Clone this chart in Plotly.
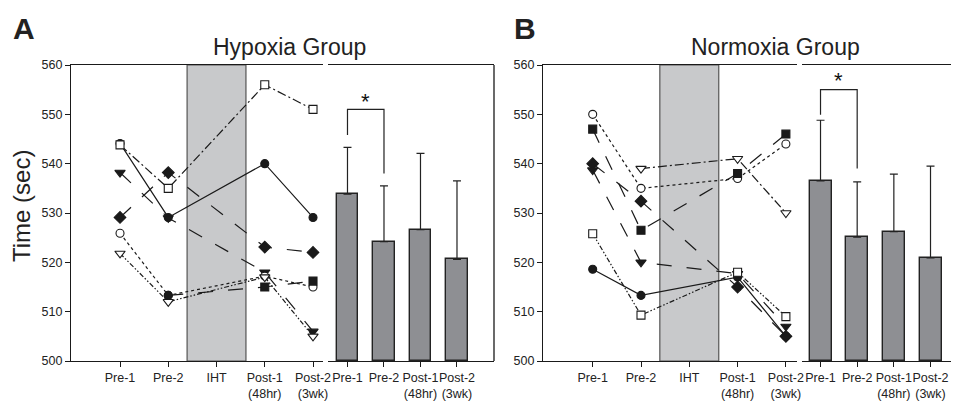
import plotly.graph_objects as go

# ---------------- data ----------------
line_cats = ["Pre-1", "Pre-2", "IHT", "Post-1<br>(48hr)", "Post-2<br>(3wk)"]
bar_cats = ["Pre-1", "Pre-2", "Post-1<br>(48hr)", "Post-2<br>(3wk)"]
time_pos = [0, 1, 3, 4]          # Pre-1, Pre-2, Post-1, Post-2 (IHT at 2)

# Hypoxia group individual subjects
hyp_circle_filled = [544.1, 529.1, 540.0, 529.1]
hyp_square_open = [543.8, 535.0, 556.0, 551.0]
hyp_diamond = [529.1, 538.2, 523.1, 522.0]
hyp_tri_filled = [538.2, 529.0, 518.0, 506.0]
hyp_circle_open = [525.9, 513.3, 517.2, 515.0]
hyp_tri_open = [521.8, 512.0, 517.0, 505.0]
hyp_square_filled = [None, 513.3, 515.0, 516.2]

# Normoxia group individual subjects
nor_circle_filled = [518.6, 513.3, 517.0, 505.0]
nor_circle_open = [550.0, 535.0, 537.0, 544.0]
nor_square_filled = [547.0, 526.5, 538.0, 546.0]
nor_diamond = [540.0, 532.4, 515.0, 505.0]
nor_tri_filled = [538.7, 520.0, 517.7, 507.0]
nor_tri_open = [None, 539.0, 541.0, 530.0]
nor_square_open = [525.8, 509.3, 518.0, 509.0]

# Group means and SD (upper error)
hyp_means = [533.8, 524.2, 526.6, 520.6]
hyp_err = [9.5, 11.3, 15.5, 15.9]
nor_means = [536.5, 525.1, 526.2, 520.9]
nor_err = [12.3, 11.2, 11.7, 18.6]

# significance brackets (Pre-1 vs Pre-2)
hyp_bracket_y = [545.8, 551.0, 551.0, 538.0]
nor_bracket_y = [549.9, 555.0, 555.0, 539.0]
bracket_x = [0, 0, 1, 1]

y_ticks = [500, 510, 520, 530, 540, 550, 560]

# ---------------- styling ----------------
INK = "#1a1a1a"
FONT = "Liberation Sans, Arial, Helvetica, sans-serif"
OFF = 8                      # page body margin in the browser
W, H = 959 - OFF, 408 - OFF

def px(x):
    return (x - OFF) / W

def py(y):
    return 1 - (y - OFF) / H

fig = go.Figure()

def subj(vals, xa, ya, symbol, filled, dash, size=8):
    fig.add_trace(go.Scatter(
        x=time_pos, y=vals, xaxis=xa, yaxis=ya, mode="lines+markers",
        connectgaps=False,
        line=dict(color=INK, width=1.2, dash=dash),
        marker=dict(symbol=symbol, size=size,
                    color=INK if filled else "white",
                    line=dict(color=INK, width=1.1)),
        showlegend=False, hoverinfo="skip"))

DDOT = "5px,2px,1.5px,2px,1.5px,2px"
LDD = "9px,3px,2px,3px"

# Hypoxia panel
subj(hyp_circle_filled, "x", "y", "circle", True, "solid")
subj(hyp_square_open, "x", "y", "square", False, LDD)
subj(hyp_diamond, "x", "y", "diamond", True, "longdash", 9)
subj(hyp_tri_filled, "x", "y", "triangle-down", True, "longdash", 9)
subj(hyp_circle_open, "x", "y", "circle", False, "dot")
subj(hyp_tri_open, "x", "y", "triangle-down", False, DDOT, 9)
subj(hyp_square_filled, "x", "y", ["square", "circle", "square", "square"], True, "longdash")

# Normoxia panel
subj(nor_circle_filled, "x3", "y3", "circle", True, "solid")
subj(nor_circle_open, "x3", "y3", "circle", False, "dot")
subj(nor_square_filled, "x3", "y3", "square", True, "longdash")
subj(nor_diamond, "x3", "y3", "diamond", True, "longdash", 9)
subj(nor_tri_filled, "x3", "y3", "triangle-down", True, "longdash", 9)
subj(nor_tri_open, "x3", "y3", "triangle-down", False, LDD, 9)
subj(nor_square_open, "x3", "y3", "square", False, DDOT)

def bars(means, errs, xa, ya):
    fig.add_trace(go.Bar(
        x=list(range(len(means))), y=[m - 500 for m in means], base=500,
        xaxis=xa, yaxis=ya, width=0.6,
        marker=dict(color="#8e8f93", line=dict(color="#222", width=1.4)),
        error_y=dict(type="data", symmetric=False, array=errs,
                     arrayminus=[0] * len(errs), color="#222",
                     thickness=1.2, width=4),
        showlegend=False, hoverinfo="skip"))

bars(hyp_means, hyp_err, "x2", "y2")
bars(nor_means, nor_err, "x4", "y4")

for xa, ya, by in [("x2", "y2", hyp_bracket_y), ("x4", "y4", nor_bracket_y)]:
    fig.add_trace(go.Scatter(x=bracket_x, y=by, xaxis=xa, yaxis=ya, mode="lines",
                             line=dict(color="#222", width=1.2),
                             showlegend=False, hoverinfo="skip"))

YD = [py(361), py(65)]
tickfont = dict(family=FONT, size=12.5, color="#222")

common_x = dict(showline=True, linecolor=INK, linewidth=1.3, mirror=True,
                ticks="outside", ticklen=5, tickcolor=INK, tickwidth=1,
                showgrid=False, zeroline=False, tickfont=tickfont, tickmode="array",
                tickangle=0, automargin=False)
common_y = dict(range=[500, 560], tickvals=y_ticks, showline=True, linecolor=INK,
                linewidth=1.3, ticks="outside", ticklen=5, tickcolor=INK,
                showgrid=False, zeroline=False, tickfont=tickfont, automargin=False)

fig.update_layout(
    template="none",
    width=W, height=H, margin=dict(l=0, r=0, t=0, b=0, pad=0),
    paper_bgcolor="white", plot_bgcolor="white",
    font=dict(family=FONT, color="#222"),
    bargap=0, showlegend=False,
    xaxis=dict(domain=[px(71), px(323)], range=[-1.016, 4.207], anchor="y",
               tickvals=[0, 1, 2, 3, 4], ticktext=line_cats, **common_x),
    xaxis2=dict(domain=[px(328), px(494)], range=[-0.534, 4.014], anchor="y2",
                tickvals=[0, 1, 2, 3], ticktext=bar_cats, **common_x),
    xaxis3=dict(domain=[px(543), px(797)], range=[-1.029, 4.23], anchor="y3",
                tickvals=[0, 1, 2, 3, 4], ticktext=line_cats, **common_x),
    xaxis4=dict(domain=[px(802), 1.0], range=[-0.505, 3.777], anchor="y4",
                tickvals=[0, 1, 2, 3], ticktext=bar_cats, **common_x),
    yaxis=dict(domain=YD, anchor="x", **common_y),
    yaxis2=dict(domain=YD, range=[500, 560], anchor="x2", visible=False, automargin=False),
    yaxis3=dict(domain=YD, anchor="x3", **common_y),
    yaxis4=dict(domain=YD, range=[500, 560], anchor="x4", visible=False, automargin=False),
)

# IHT shaded bands
for xref, yref in [("x", "y"), ("x3", "y3")]:
    fig.add_shape(type="rect", xref=xref, yref=yref, x0=1.39, x1=2.61, y0=500, y1=560,
                  fillcolor="#c8c9cb", line=dict(color="#555", width=1.2), layer="below")

# right border of hypoxia bar panel
fig.add_shape(type="line", xref="paper", yref="paper", x0=px(494), x1=px(494),
              y0=YD[0], y1=YD[1], line=dict(color=INK, width=1.3))

def label(text, x, y, size, **kw):
    fig.add_annotation(text=text, x=px(x), y=py(y), xref="paper", yref="paper",
                       xanchor="center", yanchor="middle", showarrow=False,
                       font=dict(family=FONT, size=size, color="#222"), **kw)

label("Hypoxia Group", 289, 47, 23)
label("Normoxia Group", 775, 47, 23)
label("<b>A</b>", 24, 28, 30)
label("<b>B</b>", 525, 28, 30)
label("Time (sec)", 21, 206, 24, textangle=-90)

fig.add_annotation(text="*", x=0.5, y=553.3, xref="x2", yref="y2", showarrow=False,
                   xanchor="center", yanchor="middle",
                   font=dict(family=FONT, size=22, color="#111"), yshift=-3)
fig.add_annotation(text="*", x=0.5, y=557.4, xref="x4", yref="y4", showarrow=False,
                   xanchor="center", yanchor="middle",
                   font=dict(family=FONT, size=22, color="#111"), yshift=-3)

fig.write_html("out.html")
